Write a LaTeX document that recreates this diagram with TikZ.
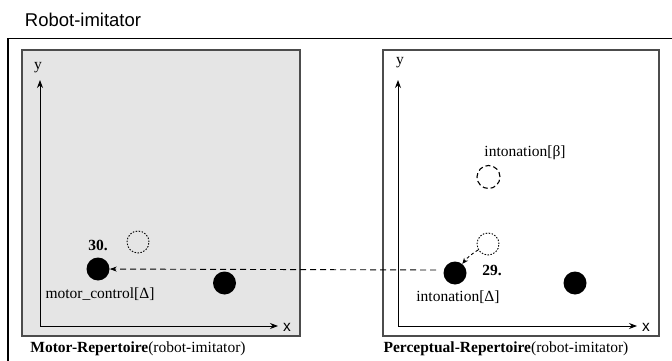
\documentclass[tikz,border=0pt]{standalone}
\usepackage{fontspec}
\setmainfont{Liberation Serif}
\setsansfont{Liberation Sans}
\usetikzlibrary{arrows.meta}
\begin{document}
\begin{tikzpicture}[x=1pt,y=-1pt,
  lbl/.style={inner sep=0pt,font=\fontsize{15.5}{18}\selectfont},
  dot/.style={circle,fill=black,minimum size=23pt,inner sep=0pt},
  ghost/.style={circle,draw,line width=0.9pt,dash pattern=on 1.5pt off 1.5pt,minimum size=22pt,inner sep=0pt},
  repbox/.style={draw=black!70,line width=1.1pt},
  axis/.style={line width=1pt,-{Stealth[length=8pt,width=6pt]}}]
\useasboundingbox (0,0) rectangle (672,361);
% outer frame and title
\draw [line width=1.8pt] (8,370) -- (8,38.5) -- (680,38.5);
\node [inner sep=0pt,font=\sffamily\fontsize{18.5}{22}\selectfont] (title) at (83,20) {Robot-imitator};
% motor repertoire
\draw [repbox,fill=black!10] (22,50) rectangle (300,336);
\coordinate (mo) at (40,326);
\draw [axis] (mo) -- (40,80);
\draw [axis] (mo) -- (278,326);
\node [lbl] (my) at (38,68) {y};
\node [lbl,font=\sffamily\fontsize{15.5}{18}\selectfont] (mx) at (287,327) {x};
\node [dot] (m30) at (98,269) {};
\node [ghost] (mg) at (138,242) {};
\node [dot] (mb) at (224.5,283) {};
\node [lbl,font=\bfseries\fontsize{15.5}{18}\selectfont] (l30) at (98,245) {30.};
\node [lbl] (lmc) at (100,294) {motor\_control[Δ]};
\node [lbl] (cm) at (138,349) {\textbf{Motor-Repertoire}(robot-imitator)};
% perceptual repertoire
\draw [repbox] (383,50) rectangle (659,336);
\coordinate (po) at (398,326);
\draw [axis] (po) -- (398,80);
\draw [axis] (po) -- (637,326);
\node [lbl] (py) at (400,63) {y};
\node [lbl,font=\sffamily\fontsize{15.5}{18}\selectfont] (px) at (646,327) {x};
\node [circle,draw,line width=1.1pt,dash pattern=on 5pt off 3pt,minimum size=23pt,inner sep=0pt] (pbeta) at (488.5,177) {};
\node [lbl] (lbeta) at (525,153) {intonation[β]};
\node [ghost] (pg) at (488,244) {};
\node [dot] (p29) at (455,273) {};
\node [dot] (pb) at (575,283) {};
\node [lbl,font=\bfseries\fontsize{15.5}{18}\selectfont] (l29) at (492,270) {29.};
\node [lbl] (lint) at (458,297) {intonation[Δ]};
\node [lbl] (cp) at (506,349) {\textbf{Perceptual-Repertoire}(robot-imitator)};
% transfer arrows
\draw [line width=0.9pt,dash pattern=on 6pt off 4pt,-{Stealth[length=7pt,width=5pt]}] (436,270) -- (m30);
\draw [line width=0.9pt,dash pattern=on 3pt off 2.5pt,-{Stealth[length=6pt,width=5pt]}] (pg) to[bend right=10] (p29);
\end{tikzpicture}
\end{document}
